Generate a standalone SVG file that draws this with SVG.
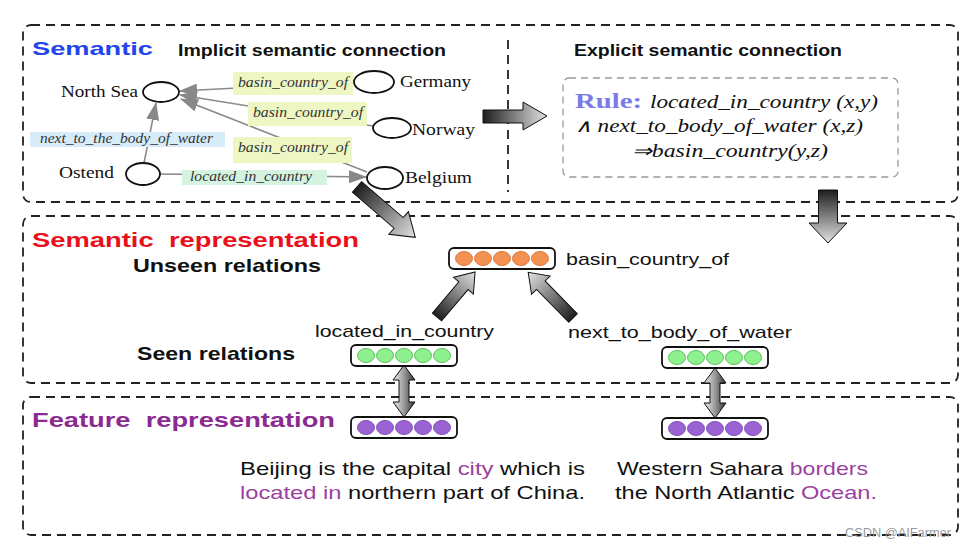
<svg xmlns="http://www.w3.org/2000/svg" width="966" height="548" viewBox="0 0 966 548">
<style>
.frame{fill:none;stroke:#222;stroke-width:1.8;stroke-dasharray:9 6}
.sans{font-family:"Liberation Sans",Arial,sans-serif}
.serif{font-family:"Liberation Serif","Times New Roman",serif}
.b{font-weight:bold}
.it{font-style:italic}
.node{fill:#fff;stroke:#111;stroke-width:1.8}
.edge{stroke:#8a8a8a;stroke-width:1.6;fill:none;marker-end:url(#ah)}
.lbl{font-family:"Liberation Serif",serif;font-style:italic;font-size:14px;fill:#333}
.fat{fill:url(#gfat);stroke:#111;stroke-width:1}
.dbl{fill:url(#gdbl);stroke:#111;stroke-width:1}
.vec{fill:#fff;stroke:#111;stroke-width:1.8}
.or{fill:#f39253;stroke:#d9773c;stroke-width:1}
.gr{fill:#8ef08e;stroke:#5cc05c;stroke-width:1}
.pu{fill:#9a62d2;stroke:#8050b8;stroke-width:1}
.pk{fill:#9b3fa0}
</style>
<defs>
<marker id="ah" viewBox="0 0 18 13" refX="17" refY="6.5" markerWidth="18" markerHeight="13" markerUnits="userSpaceOnUse" orient="auto">
<path d="M0,0 L18,6.5 L0,13 z" fill="#888"/>
</marker>
<linearGradient id="gfat" x1="0" y1="0" x2="1" y2="0">
<stop offset="0" stop-color="#1e1e1e"/>
<stop offset="1" stop-color="#e2e2e2"/>
</linearGradient>
<linearGradient id="gdbl" x1="0" y1="0" x2="1" y2="0">
<stop offset="0" stop-color="#eeeeee"/>
<stop offset="0.5" stop-color="#9a9a9a"/>
<stop offset="1" stop-color="#333"/>
</linearGradient>
<g id="circ5">
<ellipse cx="15" cy="10.5" rx="8.5" ry="7"/>
<ellipse cx="34" cy="10.5" rx="8.5" ry="7"/>
<ellipse cx="53" cy="10.5" rx="8.5" ry="7"/>
<ellipse cx="72" cy="10.5" rx="8.5" ry="7"/>
<ellipse cx="91" cy="10.5" rx="8.5" ry="7"/>
</g>
</defs>
<rect width="966" height="548" fill="#fff"/>

<!-- frames -->
<g id="frames">
<rect class="frame" x="23" y="25" width="935" height="177" rx="8"/>
<rect class="frame" x="23" y="216" width="935" height="167" rx="8"/>
<rect class="frame" x="23" y="397" width="935" height="138" rx="8"/>
<line class="frame" x1="508" y1="40" x2="508" y2="192"/>
</g>

<!-- titles -->
<g id="titles">
<text class="sans b" x="32" y="55" font-size="19" fill="#2244ee" textLength="121" lengthAdjust="spacingAndGlyphs">Semantic</text>
<text class="sans b" x="178" y="56" font-size="16.5" fill="#111" textLength="268" lengthAdjust="spacingAndGlyphs">Implicit semantic connection</text>
<text class="sans b" x="574" y="56" font-size="16.5" fill="#111" textLength="268" lengthAdjust="spacingAndGlyphs">Explicit semantic connection</text>
<text class="sans b" x="32" y="247" font-size="21" fill="#e8101a" textLength="327" lengthAdjust="spacingAndGlyphs" xml:space="preserve">Semantic  representation</text>
<text class="sans b" x="133" y="272" font-size="18.5" fill="#111" textLength="188" lengthAdjust="spacingAndGlyphs">Unseen relations</text>
<text class="sans b" x="137" y="360" font-size="18.5" fill="#111" textLength="158" lengthAdjust="spacingAndGlyphs">Seen relations</text>
<text class="sans b" x="32" y="427" font-size="21" fill="#8b2a8f" textLength="303" lengthAdjust="spacingAndGlyphs" xml:space="preserve">Feature  representation</text>
</g>

<!-- graph connectors -->
<g id="connectors">
<line class="edge" x1="353" y1="82" x2="180" y2="91"/>
<line class="edge" x1="373" y1="126" x2="180" y2="95"/>
<line class="edge" x1="367" y1="172" x2="181" y2="99"/>
<line class="edge" x1="144" y1="163" x2="156" y2="103"/>
<line class="edge" x1="160" y1="174" x2="366" y2="177"/>
<rect x="233" y="72" width="120" height="23" fill="#eef7c4"/>
<text class="lbl" x="238" y="87" textLength="110" lengthAdjust="spacingAndGlyphs">basin_country_of</text>
<rect x="248" y="102" width="119" height="24" fill="#eef7c4"/>
<text class="lbl" x="253" y="117" textLength="110" lengthAdjust="spacingAndGlyphs">basin_country_of</text>
<rect x="233" y="137" width="119" height="26" fill="#eef7c4"/>
<text class="lbl" x="238" y="152" textLength="110" lengthAdjust="spacingAndGlyphs">basin_country_of</text>
<rect x="30" y="132" width="195" height="15" fill="#d6ecf9"/>
<text class="lbl" x="40" y="143" textLength="173" lengthAdjust="spacingAndGlyphs">next_to_the_body_of_water</text>
<rect x="182" y="170" width="145" height="15" fill="#d4f3e1"/>
<text class="lbl" x="190" y="181" textLength="122" lengthAdjust="spacingAndGlyphs">located_in_country</text>
</g>

<!-- graph nodes -->
<g id="node-northsea">
<ellipse class="node" cx="161" cy="92" rx="18" ry="10"/>
<text class="serif" x="61" y="97" font-size="17" fill="#111" textLength="77" lengthAdjust="spacingAndGlyphs">North Sea</text>
</g>
<g id="node-ostend">
<ellipse class="node" cx="143" cy="174" rx="17" ry="11"/>
<text class="serif" x="59" y="178" font-size="17" fill="#111" textLength="55" lengthAdjust="spacingAndGlyphs">Ostend</text>
</g>
<g id="node-germany">
<ellipse class="node" cx="374" cy="82" rx="20" ry="11"/>
<text class="serif" x="400" y="87" font-size="17" fill="#111" textLength="71" lengthAdjust="spacingAndGlyphs">Germany</text>
</g>
<g id="node-norway">
<ellipse class="node" cx="392" cy="128" rx="19" ry="10"/>
<text class="serif" x="412" y="135" font-size="17" fill="#111" textLength="63" lengthAdjust="spacingAndGlyphs">Norway</text>
</g>
<g id="node-belgium">
<ellipse class="node" cx="385" cy="178" rx="18" ry="11"/>
<text class="serif" x="405" y="183" font-size="17" fill="#111" textLength="67" lengthAdjust="spacingAndGlyphs">Belgium</text>
</g>

<!-- rule -->
<g id="rule">
<rect x="563" y="78" width="335" height="99" rx="6" fill="none" stroke="#9a9a9a" stroke-width="1.3" stroke-dasharray="7 5"/>
<text class="serif b" x="575" y="108" font-size="21" fill="#7b7be8" textLength="67" lengthAdjust="spacingAndGlyphs">Rule:</text>
<text class="serif it" x="650" y="108" font-size="18" fill="#111" textLength="228" lengthAdjust="spacingAndGlyphs">located_in_country (x,y)</text>
<text class="serif it" x="575" y="132" font-size="18" fill="#111" textLength="288" lengthAdjust="spacingAndGlyphs">∧ next_to_body_of_water (x,z)</text>
<text class="serif it" x="632" y="157" font-size="18" fill="#111" textLength="196" lengthAdjust="spacingAndGlyphs">⇒basin_country(y,z)</text>
</g>

<!-- fat arrows -->
<g id="fat-arrows">
<path class="fat" d="M483,110 L523,110 L523,102 L547,116 L523,130 L523,123 L483,123 Z"/>
<path class="fat" transform="translate(828 190) rotate(90)" d="M0,-9.5 L33,-9.5 L33,-19 L53,0 L33,19 L33,9.5 L0,9.5 Z"/>
<path class="fat" transform="translate(357 187) rotate(40.8)" d="M0,-7 L55,-7 L55,-15 L77,0 L55,15 L55,7 L0,7 Z"/>
<path class="fat" transform="translate(437 317) rotate(-49.8)" d="M0,-6 L41,-6 L41,-13 L59,0 L41,13 L41,6 L0,6 Z"/>
<path class="fat" transform="translate(573 318) rotate(-134.4)" d="M0,-6 L46,-6 L46,-13 L64,0 L46,13 L46,6 L0,6 Z"/>
<path class="dbl" d="M404,365 L415,380 L409,380 L409,402 L415,402 L404,417 L393,402 L399,402 L399,380 L393,380 Z"/>
<path class="dbl" d="M715,368 L726,383 L720,383 L720,403 L726,403 L715,418 L704,403 L710,403 L710,383 L704,383 Z"/>
</g>

<!-- vectors -->
<g id="vec-basin">
<rect class="vec" x="449" y="248" width="106" height="21" rx="5"/>
<use href="#circ5" x="449" y="248" class="or"/>
<text class="sans" x="566" y="265" font-size="17" fill="#111" textLength="163" lengthAdjust="spacingAndGlyphs">basin_country_of</text>
</g>
<g id="vec-located">
<rect class="vec" x="351" y="345" width="106" height="21" rx="5"/>
<use href="#circ5" x="351" y="345" class="gr"/>
<text class="sans" x="315" y="337" font-size="17" fill="#111" textLength="179" lengthAdjust="spacingAndGlyphs">located_in_country</text>
</g>
<g id="vec-next">
<rect class="vec" x="662" y="347" width="106" height="21" rx="5"/>
<use href="#circ5" x="662" y="347" class="gr"/>
<text class="sans" x="568" y="338" font-size="17" fill="#111" textLength="224" lengthAdjust="spacingAndGlyphs">next_to_body_of_water</text>
</g>
<g id="vec-feat1">
<rect class="vec" x="351" y="417" width="106" height="21" rx="5"/>
<use href="#circ5" x="351" y="417" class="pu"/>
</g>
<g id="vec-feat2">
<rect class="vec" x="662" y="418" width="106" height="21" rx="5"/>
<use href="#circ5" x="662" y="418" class="pu"/>
</g>

<!-- sentences -->
<g id="sentences" class="sans" font-size="19" fill="#111">
<text x="240" y="475" textLength="345" lengthAdjust="spacingAndGlyphs">Beijing is the capital <tspan class="pk">city</tspan> which is</text>
<text x="240" y="499" textLength="345" lengthAdjust="spacingAndGlyphs"><tspan class="pk">located in</tspan> northern part of China.</text>
<text x="617" y="475" textLength="251" lengthAdjust="spacingAndGlyphs">Western Sahara <tspan class="pk">borders</tspan></text>
<text x="615" y="499" textLength="262" lengthAdjust="spacingAndGlyphs">the North Atlantic <tspan class="pk">Ocean.</tspan></text>
</g>

<text class="sans" x="845" y="537" font-size="12" fill="#9a9a9a" textLength="106" lengthAdjust="spacingAndGlyphs">CSDN @AIFarmer</text>
</svg>
